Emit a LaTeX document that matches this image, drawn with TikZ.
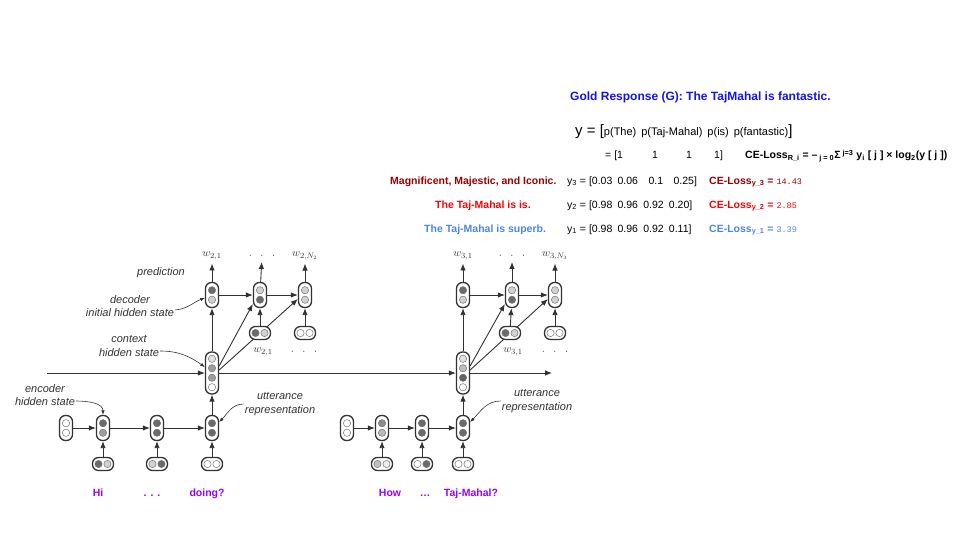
\documentclass[tikz,border=0pt]{standalone}
\usepackage{fontspec}
\setmainfont{Liberation Sans}
\setmonofont{Liberation Mono}
\usetikzlibrary{arrows.meta}

\definecolor{goldblue}{RGB}{20,20,235}
\definecolor{darkred}{RGB}{153,0,0}
\definecolor{lossred}{RGB}{255,0,0}
\definecolor{lightblue}{RGB}{74,134,232}
\definecolor{wordpurple}{RGB}{153,0,255}
\definecolor{inkgrey}{RGB}{50,50,50}

\tikzset{
  cell/.style={draw=inkgrey, line width=1.3pt, fill=white, rounded corners=6pt, inner sep=0pt, minimum width=13pt, minimum height=25pt},
  wcell/.style={cell, minimum width=21pt, minimum height=13pt},
  ctxcell/.style={cell, minimum height=42pt},
  unit/.style={circle, draw=black!55, line width=0.5pt, inner sep=0pt, minimum size=7.3pt},
  arr/.style={-{Latex[length=7pt,width=5.5pt]}, line width=0.9pt, inkgrey},
  callout/.style={-{Latex[length=4.5pt,width=3.5pt]}, line width=0.6pt, inkgrey},
  note/.style={font=\fontsize{11}{13.5}\selectfont\itshape, text=inkgrey, align=center, inner sep=1pt},
  wlab/.style={font=\fontsize{11}{13}\selectfont, text=inkgrey},
  word/.style={font=\fontsize{10.5}{12}\selectfont\bfseries, text=wordpurple, anchor=base},
  txt/.style={font=\fontsize{10.5}{12}\selectfont, anchor=base west, inner sep=0pt},
  btxt/.style={txt, font=\fontsize{10.5}{12}\selectfont\bfseries},
}

\newcommand\vcell[4]{%
  \node[cell] (#1) at (#2) {};
  \node[unit, fill=#3] (#1-a) at ([yshift=4.75pt]#1.center) {};
  \node[unit, fill=#4] (#1-b) at ([yshift=-4.75pt]#1.center) {};}
\newcommand\hcell[4]{%
  \node[wcell] (#1) at (#2) {};
  \node[unit, fill=#3] (#1-a) at ([xshift=-4.5pt]#1.center) {};
  \node[unit, fill=#4] (#1-b) at ([xshift=4.5pt]#1.center) {};}
\newcommand\ccell[6]{%
  \node[ctxcell] (#1) at (#2) {};
  \node[unit, fill=#3] (#1-a) at ([yshift=14.25pt]#1.center) {};
  \node[unit, fill=#4] (#1-b) at ([yshift=4.75pt]#1.center) {};
  \node[unit, fill=#5] (#1-c) at ([yshift=-4.75pt]#1.center) {};
  \node[unit, fill=#6] (#1-d) at ([yshift=-14.25pt]#1.center) {};}
\newcommand\lossnum[1]{{\mdseries\ttfamily\fontsize{8.5}{10}\selectfont #1}}

\begin{document}
\begin{tikzpicture}[x=1pt,y=-1pt]
\useasboundingbox (0,0) rectangle (960,540);

% gold response and candidate losses
\node[btxt, font=\fontsize{12}{14}\selectfont\bfseries, text=goldblue] (gold) at (570,101) {Gold Response (G): The TajMahal is fantastic.};
\node[txt, font=\fontsize{11}{12}\selectfont] (yvec) at (575,136) {{\fontsize{15}{15}\selectfont y = [}p(The)\hspace{5pt}p(Taj-Mahal)\hspace{5pt}p(is)\hspace{5pt}p(fantastic){\fontsize{15}{15}\selectfont ]}};
\node[txt] (one1) at (605,159) {= [1};
\node[txt, anchor=base] (one2) at (655,159) {1};
\node[txt, anchor=base] (one3) at (689,159) {1};
\node[txt] (one4) at (714,159) {1]};
\node[btxt] (lossg) at (745,159) {CE-Loss\textsubscript{R\_i} = –\,\textsubscript{j = 0}Σ\textsuperscript{ j=3} y\textsubscript{i} [ j ] × log\textsubscript{2}(y [ j ])};

\node[btxt, text=darkred] (cand3) at (390,184) {Magnificent, Majestic, and Iconic.};
\node[btxt, text=lossred] (cand2) at (435,208) {The Taj-Mahal is is.};
\node[btxt, text=lightblue] (cand1) at (424,232) {The Taj-Mahal is superb.};

\node[txt] (vec3) at (567,184) {y\textsubscript{3} = [0.03\enspace 0.06\enspace\enspace 0.1\enspace\enspace 0.25]};
\node[txt] (vec2) at (567,208) {y\textsubscript{2} = [0.98\enspace 0.96\enspace 0.92\enspace 0.20]};
\node[txt] (vec1) at (567,232) {y\textsubscript{1} = [0.98\enspace 0.96\enspace 0.92\enspace 0.11]};

\node[btxt, text=darkred] (loss3) at (709,184) {CE-Loss\textsubscript{y\_3} = \lossnum{14.43}};
\node[btxt, text=lossred] (loss2) at (709,208) {CE-Loss\textsubscript{y\_2} = \lossnum{2.85}};
\node[btxt, text=lightblue] (loss1) at (709,232) {CE-Loss\textsubscript{y\_1} = \lossnum{3.39}};

% hierarchical encoder-decoder
\coordinate (hstart) at (47,373);
\coordinate (hend) at (552,373);

\vcell{e0}{66,428}{white}{white}
\vcell{e1}{103,428}{black!58}{black!38}
\vcell{e2}{157,428}{black!58}{black!58}
\vcell{e3}{212,428}{black!58}{black!58}
\ccell{c1}{212,373}{black!12}{black!38}{black!38}{white}
\vcell{d1}{212,295}{black!58}{black!18}
\vcell{d2}{260,295}{black!18}{black!58}
\vcell{d3}{305,295}{black!18}{black!18}

\vcell{f0}{347,428}{white}{white}
\vcell{f1}{382,428}{black!45}{black!28}
\vcell{f2}{422,428}{black!58}{black!58}
\vcell{f3}{463,428}{black!58}{black!58}
\ccell{c2}{463,373}{black!12}{black!25}{black!62}{white}
\vcell{g1}{463,295}{black!58}{black!18}
\vcell{g2}{512,295}{black!18}{black!58}
\vcell{g3}{555,295}{black!18}{black!18}

\draw[arr] ([yshift=3pt]c1.east) -- ([yshift=-4pt]d3.west);
\draw[arr] ([yshift=3pt]c2.east) -- ([yshift=-4pt]g3.west);

\hcell{x1}{103,464}{black!58}{black!18}
\hcell{x2}{157,464}{black!18}{black!58}
\hcell{x3}{212,464}{white}{white}
\hcell{y1}{260,333}{black!58}{black!18}
\hcell{y2}{305,333}{white}{white}

\hcell{z1}{382,464}{black!25}{black!8}
\hcell{z2}{422,464}{white}{black!58}
\hcell{z3}{463,464}{white}{white}
\hcell{v1}{510,333}{black!58}{black!18}
\hcell{v2}{555,333}{white}{white}

\draw[arr] (hstart) -- (c1);
\draw[arr] (c1) -- (c2);
\draw[arr] (c2) -- (hend);

\draw[arr] (e0) -- (e1);
\draw[arr] (e1) -- (e2);
\draw[arr] (e2) -- (e3);
\draw[arr] (x1) -- (e1);
\draw[arr] (x2) -- (e2);
\draw[arr] (x3) -- (e3);
\draw[arr] (e3) -- (c1);
\draw[arr] (c1) -- (d1);
\draw[arr] (d1) -- (d2);
\draw[arr] (d2) -- (d3);
\draw[arr] ([yshift=7pt]c1.east) -- ([yshift=-9pt]d2.west);
\draw[arr] (y1) -- (d2);
\draw[arr] (y2) -- (d3);

\draw[arr] (f0) -- (f1);
\draw[arr] (f1) -- (f2);
\draw[arr] (f2) -- (f3);
\draw[arr] (z1) -- (f1);
\draw[arr] (z2) -- (f2);
\draw[arr] (z3) -- (f3);
\draw[arr] (f3) -- (c2);
\draw[arr] (c2) -- (g1);
\draw[arr] (g1) -- (g2);
\draw[arr] (g2) -- (g3);
\draw[arr] ([yshift=7pt]c2.east) -- ([yshift=-9pt]g2.west);
\draw[arr] (v1) -- (g2);
\draw[arr] (v2) -- (g3);

\node[wlab] (o21) at (212,256) {$w_{2,1}$};
\node[wlab] (o22) at (262,256) {$\cdot\;\;\cdot\;\;\cdot$};
\node[wlab] (o23) at (305,256) {$w_{2,N_2}$};
\node[wlab] (i21) at (263,352) {$w_{2,1}$};
\node[wlab] (i22) at (304,352) {$\cdot\;\;\cdot\;\;\cdot$};
\node[wlab] (o31) at (463,256) {$w_{3,1}$};
\node[wlab] (o32) at (512,256) {$\cdot\;\;\cdot\;\;\cdot$};
\node[wlab] (o33) at (555,256) {$w_{3,N_3}$};
\node[wlab] (i31) at (513,352) {$w_{3,1}$};
\node[wlab] (i32) at (555,352) {$\cdot\;\;\cdot\;\;\cdot$};

\draw[arr] (d1) -- (o21);
\draw[arr] (d2) -- (o22);
\draw[arr] (d3) -- (o23);
\draw[arr] (g1) -- (o31);
\draw[arr] (g2) -- (o32);
\draw[arr] (g3) -- (o33);

\node[note] (predlbl) at (161,273) {prediction};
\node[note] (declbl) at (130,306) {decoder\\initial hidden state};
\node[note] (ctxlbl) at (129,346) {context\\hidden state};
\node[note] (enclbl) at (45,395) {encoder\\hidden state};
\node[note] (utt1) at (280,404) {utterance\\representation};
\node[note] (utt2) at (537,401) {utterance\\representation};

\draw[callout] ([yshift=-4pt]declbl.east) to[out=5,in=200] ([yshift=-3pt]d1.west);
\draw[callout] ([yshift=-5pt]ctxlbl.east) to[out=0,in=145] ([yshift=6pt]c1.west);
\draw[callout] ([yshift=-6pt]enclbl.east) to[out=0,in=90] (e1.north);
\draw[callout] (utt1.west) to[out=180,in=45] ([yshift=6pt]e3.east);
\draw[callout] (utt2.west) to[out=180,in=45] ([yshift=6pt]f3.east);

\node[word] (hi) at (98,496) {Hi};
\node[word] (dots1) at (152,496) {. . .};
\node[word] (doing) at (207,496) {doing?};
\node[word] (how) at (390,496) {How};
\node[word] (dots2) at (425,496) {…};
\node[word] (taj) at (471,496) {Taj-Mahal?};
\end{tikzpicture}
\end{document}
